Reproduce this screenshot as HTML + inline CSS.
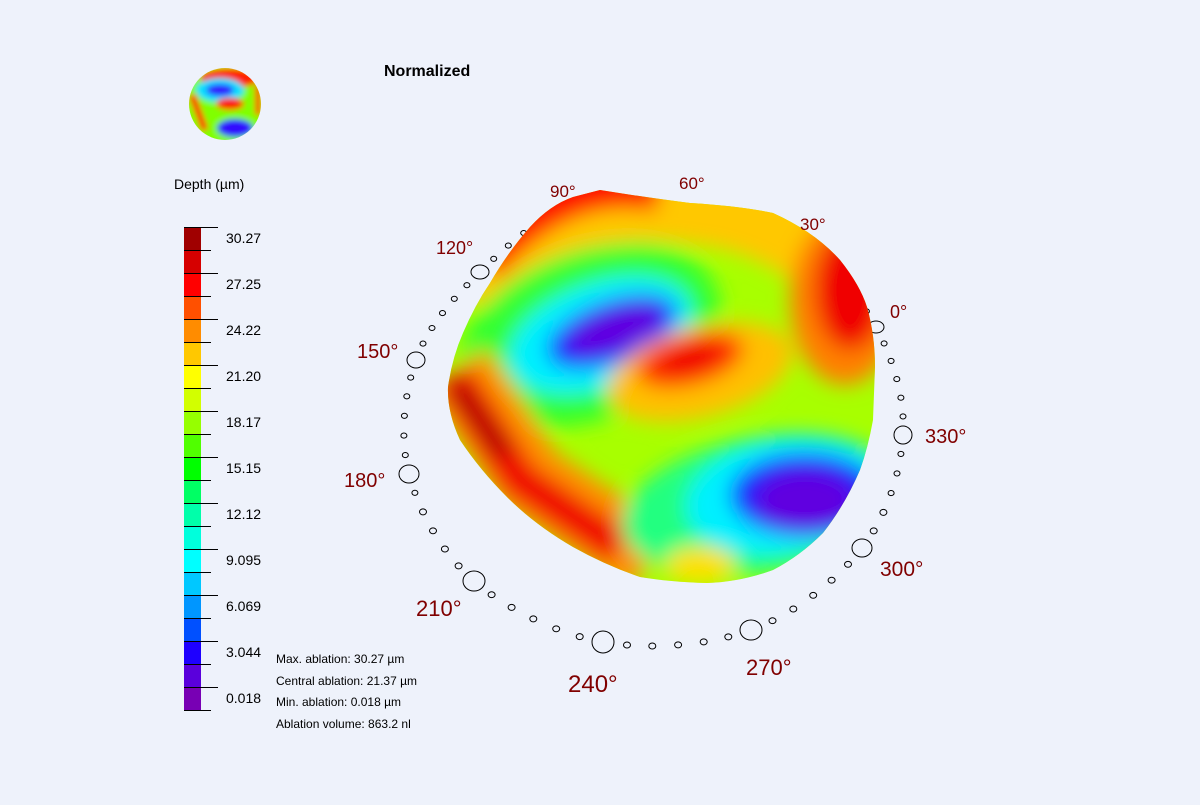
<!DOCTYPE html>
<html><head><meta charset="utf-8"><style>
body{margin:0;background:#eef2fb;width:1200px;height:800px;overflow:hidden;font-family:"Liberation Sans",sans-serif}
</style></head><body>
<svg id="main" width="1200" height="800" xmlns="http://www.w3.org/2000/svg" font-family="Liberation Sans, sans-serif">
<rect width="1200" height="800" fill="#eef2fb"/>
<g id="ring" fill="none" stroke="#000" stroke-width="1"></g>
<defs>
<filter id="b" x="-50%" y="-50%" width="200%" height="200%"><feGaussianBlur stdDeviation="10"/></filter>
<filter id="b2" x="-50%" y="-50%" width="200%" height="200%"><feGaussianBlur stdDeviation="3"/></filter>
<clipPath id="cp"><path d="M600,190 Q650,198 690,203 Q740,206 773,213 Q815,232 840,260 Q860,285 867,307 Q875,335 875,367 L873,420 Q868,448 860,470 Q845,505 823,533 Q800,556 773,570 Q740,582 707,583 Q670,582 640,577 Q605,565 573,547 Q535,525 507,497 Q480,470 460,440 Q447,412 448,387 Q452,358 463,333 Q475,305 490,283 Q508,252 530,227 Q550,205 573,197 Z"/></clipPath>
<clipPath id="cs"><circle cx="225" cy="104" r="36"/></clipPath>
</defs>
<g clip-path="url(#cp)">
<rect x="400" y="150" width="520" height="480" fill="#a8ff00"/>
<g filter="url(#b)">
<path d="M470,300 Q540,180 700,205 Q800,215 870,300" fill="none" stroke="#ffc800" stroke-width="80"/>
<path d="M480,262 Q560,168 660,188" fill="none" stroke="#ff1000" stroke-width="48"/>
<ellipse cx="845" cy="300" rx="55" ry="85" fill="#ff8000"/>
<ellipse cx="850" cy="290" rx="35" ry="60" fill="#f00000"/>
<ellipse cx="590" cy="335" rx="135" ry="85" transform="rotate(-20 590 335)" fill="#30ff30"/>
<ellipse cx="600" cy="335" rx="95" ry="52" transform="rotate(-20 600 335)" fill="#00f0ff"/>
<ellipse cx="612" cy="332" rx="68" ry="31" transform="rotate(-20 612 332)" fill="#1020ff"/>
<ellipse cx="615" cy="330" rx="50" ry="20" transform="rotate(-20 615 330)" fill="#6000e0"/>
<ellipse cx="700" cy="372" rx="95" ry="45" transform="rotate(-15 700 372)" fill="#ffc000"/>
<ellipse cx="690" cy="360" rx="55" ry="25" transform="rotate(-15 690 360)" fill="#ff3000"/>
<ellipse cx="690" cy="358" rx="32" ry="14" transform="rotate(-15 690 358)" fill="#f00000"/>
<path d="M455,370 L530,480 L650,560" fill="none" stroke="#ff9000" stroke-width="75"/>
<path d="M452,375 L520,480 L620,548" fill="none" stroke="#f00000" stroke-width="38"/>
<path d="M455,385 L505,455" fill="none" stroke="#b00000" stroke-width="20"/>
<ellipse cx="760" cy="505" rx="140" ry="68" transform="rotate(-10 760 505)" fill="#20ff80"/>
<ellipse cx="785" cy="495" rx="100" ry="58" transform="rotate(-10 785 495)" fill="#00f0ff"/>
<ellipse cx="805" cy="495" rx="75" ry="42" fill="#1020ff"/>
<ellipse cx="805" cy="500" rx="50" ry="30" fill="#6000e0"/>
<ellipse cx="700" cy="565" rx="35" ry="18" fill="#ffe000"/>
</g>
</g>
<g clip-path="url(#cs)" filter="url(#b2)">
<rect x="185" y="65" width="80" height="80" fill="#80ff00"/>
<ellipse cx="230" cy="78" rx="30" ry="10" fill="#ff2000"/>
<ellipse cx="220" cy="90" rx="24" ry="12" fill="#00e0ff"/>
<ellipse cx="220" cy="90" rx="14" ry="6" fill="#3010ff"/>
<ellipse cx="230" cy="104" rx="14" ry="6" fill="#ff1000"/>
<path d="M192,95 L205,130" stroke="#ff1000" stroke-width="7"/>
<path d="M258,85 L258,115" stroke="#ff2000" stroke-width="6"/>
<ellipse cx="235" cy="128" rx="18" ry="9" fill="#3010ff"/>
</g>
<text x="384" y="76" font-size="16" font-weight="bold" fill="#000">Normalized</text>
<text x="174" y="189" font-size="14" fill="#000">Depth (µm)</text>
<g id="bar"></g>
<g font-size="12" fill="#000">
<text x="276" y="663">Max. ablation: 30.27 µm</text>
<text x="276" y="685">Central ablation: 21.37 µm</text>
<text x="276" y="706">Min. ablation: 0.018 µm</text>
<text x="276" y="728">Ablation volume: 863.2 nl</text>
</g>
<g fill="#800000">
<text x="890" y="318" font-size="18">0°</text>
<text x="800" y="230" font-size="17">30°</text>
<text x="679" y="189" font-size="17">60°</text>
<text x="550" y="197" font-size="17">90°</text>
<text x="436" y="254" font-size="18">120°</text>
<text x="357" y="358" font-size="20">150°</text>
<text x="344" y="487" font-size="20">180°</text>
<text x="416" y="616" font-size="22">210°</text>
<text x="568" y="692" font-size="24">240°</text>
<text x="746" y="675" font-size="22">270°</text>
<text x="880" y="576" font-size="21">300°</text>
<text x="925" y="443" font-size="20">330°</text>
</g>
</svg>
<script>
(function(){
var cols=["#a00000","#d60000","#ff0000","#ff5000","#ff8c00","#ffc800","#ffff00","#d2ff00","#96ff00","#50ff00","#00ff00","#00ff64","#00ffaa","#00ffdc","#00ffff","#00c8ff","#0096ff","#0050ff","#1e00ff","#5a00dc","#7800b4"];
var labs=["30.27","27.25","24.22","21.20","18.17","15.15","12.12","9.095","6.069","3.044","0.018"];
var bar=document.getElementById("bar"),h="";
var y0=227,sh=23;
cols.forEach(function(c,i){h+='<rect x="184" y="'+(y0+i*sh)+'" width="17" height="'+sh+'" fill="'+c+'"/>';});
for(var i=0;i<=21;i++){var y=y0+i*sh+0.5;var lg=(i%2==0);h+='<line x1="184" x2="'+(lg?218:211)+'" y1="'+y+'" y2="'+y+'" stroke="#000"/>';}
labs.forEach(function(l,i){h+='<text x="226" y="'+(y0+16+i*46)+'" font-size="14" fill="#000">'+l+'</text>';});
bar.innerHTML=h;
var pts={0:[876,327],30:[800,245],60:[700,205],90:[575,205],120:[480,272],150:[416,360],180:[409,474],210:[474,581],240:[603,642],270:[751,630],300:[862,548],330:[903,435]};
var sz={0:[8,6],120:[9,7],150:[9,8],180:[10,9],210:[11,10],240:[11,11],270:[11,10],300:[10,9],330:[9,9]};
function cr(p0,p1,p2,p3,t){return [0,1].map(function(k){return 0.5*((2*p1[k])+(-p0[k]+p2[k])*t+(2*p0[k]-5*p1[k]+4*p2[k]-p3[k])*t*t+(-p0[k]+3*p1[k]-3*p2[k]+p3[k])*t*t*t);});}
var keys=[0,30,60,90,120,150,180,210,240,270,300,330];
var s="";
for(var a=0;a<360;a+=5){
 var i2=Math.floor(a/30),t=(a%30)/30;
 var p=cr(pts[keys[(i2+11)%12]],pts[keys[i2]],pts[keys[(i2+1)%12]],pts[keys[(i2+2)%12]],t);
 if(a>=20&&a<=100) continue;
 if(a%30==0){ if(sz[a]) s+='<ellipse cx="'+p[0]+'" cy="'+p[1]+'" rx="'+sz[a][0]+'" ry="'+sz[a][1]+'"/>'; }
 else { var rr=p[1]>500?3.5:3; s+='<ellipse cx="'+p[0].toFixed(1)+'" cy="'+p[1].toFixed(1)+'" rx="'+rr+'" ry="'+(rr*0.85)+'"/>'; }
}
document.getElementById("ring").innerHTML=s;
})();
</script>
</body></html>
